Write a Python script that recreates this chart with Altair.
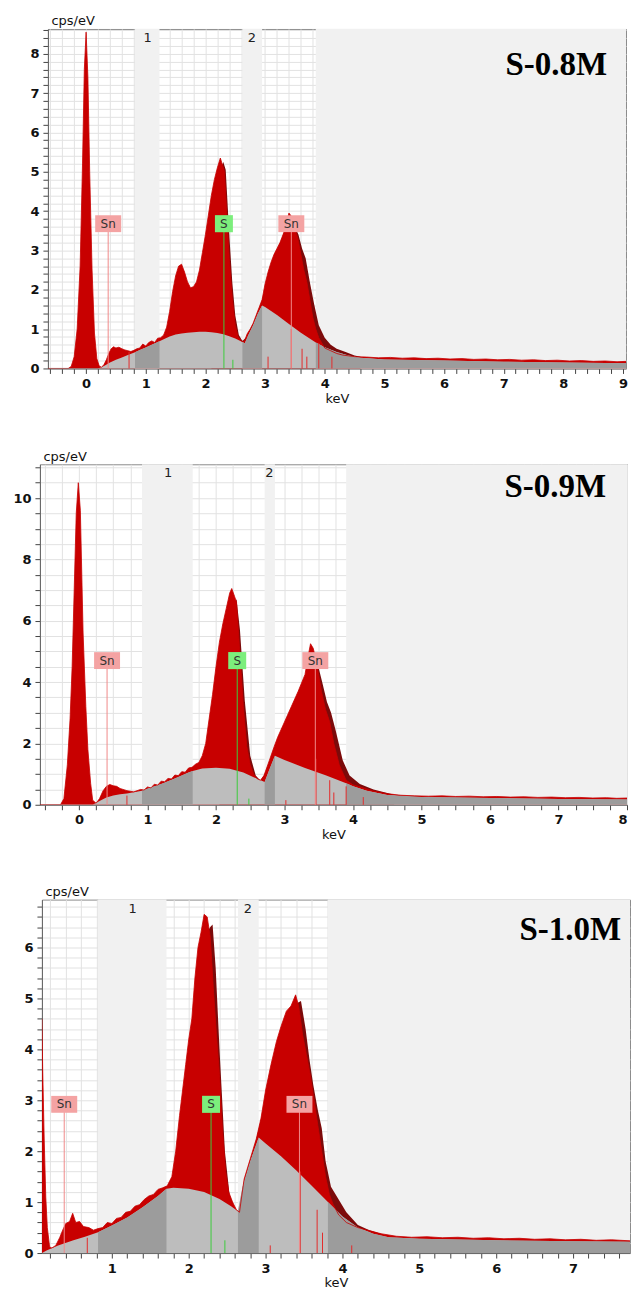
import altair as alt
import numpy as np
import pandas as pd

# ---------------- data ----------------
# Panel 1 : S-0.8M   (keV, cps/eV)
P1_SPECTRUM = [(-0.64, 0), (-0.3, 0), (-0.25, 0.05), (-0.2, 0.3), (-0.15, 1.0), (-0.1, 2.6), (-0.06, 5.2),
               (-0.03, 7.6), (0.0, 8.55), (0.03, 7.4), (0.06, 5.0), (0.1, 2.5), (0.14, 0.9), (0.18, 0.25),
               (0.22, 0.06), (0.26, 0.03), (0.3, 0.1), (0.34, 0.22), (0.38, 0.38), (0.42, 0.5), (0.46, 0.55),
               (0.5, 0.52), (0.55, 0.54), (0.6, 0.5), (0.65, 0.47), (0.7, 0.45), (0.75, 0.43), (0.8, 0.46),
               (0.85, 0.5), (0.9, 0.52), (0.95, 0.62), (1.0, 0.57), (1.05, 0.66), (1.1, 0.7), (1.15, 0.66),
               (1.2, 0.77), (1.25, 0.78), (1.3, 0.85), (1.35, 1.05), (1.4, 1.45), (1.45, 1.95), (1.5, 2.35),
               (1.55, 2.6), (1.6, 2.65), (1.65, 2.45), (1.7, 2.2), (1.75, 2.05), (1.8, 2.08), (1.85, 2.2),
               (1.9, 2.5), (1.95, 2.95), (2.0, 3.4), (2.05, 3.9), (2.1, 4.4), (2.15, 4.8), (2.2, 5.1),
               (2.25, 5.35), (2.28, 5.2), (2.32, 5.0), (2.36, 3.9), (2.4, 2.8), (2.45, 1.8), (2.5, 1.1),
               (2.55, 0.8), (2.6, 0.7), (2.65, 0.68), (2.7, 0.88), (2.75, 1.0), (2.8, 1.15), (2.85, 1.35),
               (2.9, 1.55), (2.95, 1.75), (3.0, 2.15), (3.05, 2.45), (3.1, 2.7), (3.15, 2.9), (3.2, 3.05),
               (3.25, 3.2), (3.3, 3.4), (3.35, 3.6), (3.4, 3.95), (3.45, 3.85), (3.5, 3.55), (3.55, 3.3),
               (3.6, 2.9), (3.65, 2.5), (3.7, 2.2), (3.75, 1.75), (3.8, 1.3), (3.85, 1.0), (3.9, 0.78),
               (4.0, 0.52), (4.1, 0.45), (4.2, 0.38), (4.3, 0.34), (4.4, 0.32), (4.5, 0.3), (4.7, 0.29),
               (4.9, 0.27), (5.1, 0.28), (5.3, 0.26), (5.5, 0.27), (5.7, 0.25), (5.9, 0.26), (6.1, 0.24),
               (6.3, 0.25), (6.5, 0.23), (6.7, 0.24), (6.9, 0.22), (7.1, 0.23), (7.3, 0.21), (7.5, 0.22),
               (7.7, 0.2), (7.9, 0.21), (8.1, 0.19), (8.3, 0.2), (8.5, 0.18), (8.7, 0.19), (8.9, 0.17),
               (9.05, 0.18)]
P1_FIT = [(2.1, 4.2), (2.2, 4.9), (2.3, 5.25), (2.34, 5.05), (2.4, 3.4), (2.45, 2.2), (2.5, 1.35),
          (2.56, 0.85), (2.62, 0.7), (2.8, 0.95), (3.0, 2.0), (3.2, 2.95), (3.42, 3.9), (3.5, 3.6),
          (3.56, 3.4), (3.62, 3.05), (3.68, 2.8), (3.75, 2.2), (3.82, 1.65), (3.9, 1.1), (4.0, 0.78),
          (4.1, 0.6), (4.2, 0.5), (4.35, 0.42), (4.5, 0.33), (4.6, 0.3)]
P1_BACKGROUND = [(0.2, 0.0), (0.3, 0.06), (0.4, 0.15), (0.5, 0.22), (0.6, 0.28), (0.7, 0.34), (0.82, 0.41),
                 (0.9, 0.47), (1.0, 0.53), (1.1, 0.6), (1.23, 0.69), (1.3, 0.74), (1.4, 0.81), (1.5, 0.86),
                 (1.6, 0.89), (1.7, 0.91), (1.8, 0.92), (1.9, 0.93), (2.0, 0.93), (2.1, 0.92), (2.2, 0.9),
                 (2.3, 0.87), (2.4, 0.82), (2.5, 0.76), (2.62, 0.67), (2.66, 0.64), (2.72, 0.85), (2.8, 1.1),
                 (2.88, 1.4), (2.95, 1.6), (3.0, 1.56), (3.2, 1.36), (3.4, 1.13), (3.6, 0.91), (3.85, 0.66),
                 (4.0, 0.54), (4.2, 0.42), (4.4, 0.33), (4.6, 0.27), (5.0, 0.23), (6.0, 0.2), (7.0, 0.17),
                 (8.0, 0.15), (9.05, 0.13)]
P1_BANDS = [(0.82, 1.23), (2.62, 2.95), (3.85, 9.05)]
P1_BAND_LABELS = [("1", 1.03), ("2", 2.78)]
P1_ELEMENTS = [("Sn", 0.37, 3.68), ("S", 2.31, 3.68), ("Sn", 3.44, 3.68)]
P1_RED_LINES = [(0.72, 0.42), (3.05, 0.3), (3.44, 1.0), (3.62, 0.5), (3.7, 0.3), (3.9, 0.65), (4.12, 0.3)]
P1_GREEN_LINES = [(2.46, 0.22)]

# Panel 2 : S-0.9M
P2_SPECTRUM = [(-0.57, 0), (-0.27, 0), (-0.22, 0.2), (-0.17, 1.3), (-0.13, 2.8), (-0.1, 4.5), (-0.07, 7.0),
               (-0.04, 9.5), (-0.01, 10.5), (0.02, 9.6), (0.06, 5.6), (0.1, 3.2), (0.13, 1.8), (0.17, 0.7),
               (0.2, 0.15), (0.25, 0.05), (0.3, 0.2), (0.35, 0.45), (0.4, 0.6), (0.45, 0.66), (0.5, 0.62),
               (0.55, 0.6), (0.6, 0.53), (0.7, 0.46), (0.8, 0.42), (0.9, 0.5), (0.95, 0.48), (1.0, 0.58),
               (1.05, 0.55), (1.1, 0.67), (1.15, 0.64), (1.2, 0.77), (1.25, 0.75), (1.3, 0.86), (1.35, 0.84),
               (1.4, 0.97), (1.45, 0.95), (1.5, 1.08), (1.55, 1.06), (1.6, 1.2), (1.65, 1.22), (1.7, 1.32),
               (1.75, 1.38), (1.8, 1.6), (1.85, 2.0), (1.9, 2.8), (1.95, 3.6), (2.0, 4.5), (2.05, 5.3),
               (2.1, 5.9), (2.15, 6.4), (2.2, 6.9), (2.23, 7.05), (2.27, 6.8), (2.3, 6.6), (2.35, 4.9),
               (2.4, 3.2), (2.45, 1.9), (2.5, 1.3), (2.55, 1.0), (2.6, 0.85), (2.65, 0.8), (2.7, 0.95),
               (2.78, 1.45), (2.85, 1.9), (2.9, 2.2), (3.0, 2.7), (3.1, 3.2), (3.2, 3.7), (3.3, 4.25),
               (3.35, 4.9), (3.38, 5.25), (3.42, 5.1), (3.47, 4.6), (3.54, 3.7), (3.6, 3.1), (3.66, 2.7),
               (3.72, 2.0), (3.8, 1.3), (3.9, 0.8), (4.0, 0.65), (4.15, 0.55), (4.3, 0.45), (4.5, 0.36),
               (4.7, 0.31), (4.9, 0.29), (5.1, 0.28), (5.3, 0.29), (5.5, 0.27), (5.7, 0.28), (5.9, 0.26),
               (6.1, 0.27), (6.3, 0.25), (6.5, 0.26), (6.7, 0.24), (6.9, 0.25), (7.1, 0.23), (7.3, 0.24),
               (7.5, 0.22), (7.7, 0.23), (7.85, 0.21), (8.0, 0.22)]
P2_FIT = [(2.05, 4.6), (2.2, 6.3), (2.3, 6.7), (2.35, 5.7), (2.42, 3.4), (2.5, 1.6), (2.58, 0.95),
          (2.65, 0.78), (2.8, 1.3), (3.0, 2.4), (3.3, 3.9), (3.45, 4.9), (3.55, 4.0), (3.62, 3.35),
          (3.68, 3.0), (3.75, 2.4), (3.85, 1.45), (3.95, 0.95), (4.1, 0.68), (4.3, 0.5), (4.5, 0.38),
          (4.6, 0.33)]
P2_BACKGROUND = [(0.2, 0.0), (0.3, 0.12), (0.4, 0.24), (0.5, 0.3), (0.6, 0.34), (0.7, 0.37), (0.8, 0.41),
                 (0.92, 0.46), (1.0, 0.52), (1.2, 0.68), (1.4, 0.86), (1.6, 1.05), (1.66, 1.1), (1.8, 1.18),
                 (2.0, 1.21), (2.2, 1.17), (2.4, 1.05), (2.55, 0.9), (2.71, 0.74), (2.78, 1.15), (2.86, 1.6),
                 (3.0, 1.46), (3.3, 1.2), (3.6, 0.96), (3.9, 0.7), (4.0, 0.6), (4.2, 0.46), (4.5, 0.32),
                 (5.0, 0.25), (6.0, 0.22), (7.0, 0.19), (8.0, 0.17)]
P2_BANDS = [(0.92, 1.66), (2.71, 2.86), (3.9, 8.0)]
P2_BAND_LABELS = [("1", 1.3), ("2", 2.78)]
P2_ELEMENTS = [("Sn", 0.41, 4.7), ("S", 2.31, 4.7), ("Sn", 3.45, 4.7)]
P2_RED_LINES = [(0.7, 0.3), (3.02, 0.15), (3.46, 1.5), (3.66, 0.8), (3.72, 0.4), (3.9, 0.6), (4.15, 0.25)]
P2_GREEN_LINES = [(2.48, 0.2)]

# Panel 3 : S-1.0M
P3_SPECTRUM = [(0.09, 4.6), (0.1, 3.6), (0.12, 2.2), (0.14, 1.1), (0.16, 0.5), (0.19, 0.12), (0.22, 0.1),
               (0.27, 0.15), (0.32, 0.3), (0.36, 0.45), (0.4, 0.58), (0.45, 0.62), (0.49, 0.78), (0.53, 0.6),
               (0.58, 0.62), (0.63, 0.52), (0.7, 0.5), (0.76, 0.45), (0.82, 0.48), (0.88, 0.5), (0.94, 0.6),
               (1.0, 0.58), (1.06, 0.68), (1.12, 0.7), (1.18, 0.8), (1.24, 0.82), (1.3, 0.92), (1.36, 0.95),
               (1.42, 1.05), (1.48, 1.12), (1.54, 1.15), (1.6, 1.25), (1.66, 1.28), (1.72, 1.32), (1.78, 1.5),
               (1.83, 2.0), (1.88, 2.7), (1.92, 3.2), (1.96, 3.7), (2.0, 4.2), (2.04, 4.6), (2.08, 5.4),
               (2.12, 6.0), (2.16, 6.3), (2.2, 6.65), (2.24, 6.6), (2.28, 6.2), (2.32, 5.2), (2.36, 4.3),
               (2.4, 3.5), (2.44, 2.4), (2.48, 1.6), (2.52, 1.2), (2.57, 1.0), (2.62, 0.85), (2.66, 0.8),
               (2.72, 1.45), (2.8, 1.85), (2.88, 2.25), (2.94, 2.65), (3.0, 3.2), (3.07, 3.7), (3.14, 4.15),
               (3.2, 4.45), (3.27, 4.75), (3.33, 4.85), (3.39, 5.07), (3.43, 4.85), (3.48, 4.3), (3.53, 3.9),
               (3.58, 3.5), (3.63, 3.0), (3.68, 2.5), (3.73, 2.0), (3.78, 1.5), (3.83, 1.15), (3.88, 0.95),
               (3.95, 0.75), (4.05, 0.6), (4.2, 0.5), (4.35, 0.44), (4.5, 0.38), (4.7, 0.33), (4.9, 0.31),
               (5.1, 0.32), (5.3, 0.3), (5.5, 0.31), (5.7, 0.29), (5.9, 0.3), (6.1, 0.28), (6.3, 0.29),
               (6.5, 0.27), (6.7, 0.28), (6.9, 0.26), (7.1, 0.27), (7.3, 0.25), (7.5, 0.26), (7.74, 0.24)]
P3_FIT = [(2.2, 6.2), (2.28, 6.4), (2.31, 6.45), (2.35, 5.6), (2.4, 4.0), (2.47, 2.0), (2.53, 1.15),
          (2.6, 0.85), (2.65, 0.8), (3.0, 3.0), (3.3, 4.6), (3.4, 4.9), (3.46, 4.95), (3.52, 4.4),
          (3.57, 3.8), (3.62, 3.3), (3.68, 2.8), (3.73, 2.45), (3.78, 1.8), (3.85, 1.3), (3.95, 1.05),
          (4.05, 0.8), (4.2, 0.55), (4.35, 0.45), (4.5, 0.38)]
P3_BACKGROUND = [(0.09, 0.0), (0.15, 0.05), (0.3, 0.15), (0.5, 0.25), (0.65, 0.32), (0.82, 0.41), (1.0, 0.54),
                 (1.2, 0.7), (1.4, 0.9), (1.6, 1.12), (1.71, 1.26), (1.8, 1.28), (2.0, 1.26), (2.2, 1.2),
                 (2.4, 1.06), (2.55, 0.92), (2.64, 0.82), (2.7, 1.3), (2.8, 1.8), (2.91, 2.27), (3.0, 2.15),
                 (3.2, 1.9), (3.4, 1.62), (3.6, 1.32), (3.81, 1.0), (4.0, 0.72), (4.2, 0.5), (4.4, 0.38),
                 (4.6, 0.31), (5.0, 0.28), (6.0, 0.25), (7.0, 0.23), (7.74, 0.22)]
P3_BANDS = [(0.82, 1.71), (2.64, 2.91), (3.81, 7.74)]
P3_BAND_LABELS = [("1", 1.27), ("2", 2.77)]
P3_ELEMENTS = [("Sn", 0.38, 2.92), ("S", 2.29, 2.92), ("Sn", 3.44, 2.92)]
P3_RED_LINES = [(0.68, 0.3), (3.06, 0.15), (3.45, 1.6), (3.67, 0.85), (3.74, 0.4), (4.12, 0.15)]
P3_GREEN_LINES = [(2.47, 0.25)]

TITLES = ["S-0.8M", "S-0.9M", "S-1.0M"]

# ---------------- styling ----------------
RED = "#c80000"
DARK_RED = "#7c0a0a"
BAND = "#f1f1f1"
GRAY_LIGHT = "#bdbdbd"
GRAY_DARK = "#9c9c9c"
SN_FILL = "#f4a3a3"
SN_LINE = "#f08a8a"
S_FILL = "#7cee7c"
S_LINE = "#3ccc3c"
AX_FONT = "DejaVu Sans"
SN_SHAPE = "M-1,-0.65H1V0.65H-1Z"
S_SHAPE = "M-1,-0.95H1V0.95H-1Z"
AXIS_ROOM = 30  # room kept left of every plot area for the y axis
LAYOUT_SLACK = 3  # extra offset the layout adds beyond AXIS_ROOM


def tick_values(lo, hi, step):
    start = np.ceil(lo / step - 1e-9) * step
    vals = np.arange(start, hi + 1e-9, step)
    return [float(round(v, 3)) + 0.0 for v in vals]


def label_expr(every):
    return (f"abs(datum.value / {every} - round(datum.value / {every})) < 0.001 "
            f"? format(round(datum.value), 'd') : ''")


def make_panel(spectrum, fit, background, bands, band_labels, elements, red_lines, green_lines,
               title, xdom, ydom, xstep, ystep, ylab_every, width, height, title_x, title_y,
               margin_top, margin_bottom):
    xs = alt.Scale(domain=xdom, nice=False, zero=False)
    ys = alt.Scale(domain=ydom, nice=False, zero=False)
    xaxis = alt.Axis(values=tick_values(xdom[0], xdom[1], xstep), labelExpr=label_expr(1),
                     title="keV", grid=True, gridColor="#e2e2e2", tickSize=5, tickColor="#444",
                     domainColor="#666", labelFont=AX_FONT, labelFontSize=13, labelFontWeight="bold",
                     labelColor="#111", labelPadding=4, labelOverlap=False, labelFlush=True,
                     titleFont=AX_FONT, titleFontSize=13, titleFontWeight="normal",
                     titleColor="#111", titlePadding=2)
    yaxis = alt.Axis(values=tick_values(ydom[0], ydom[1], ystep), labelExpr=label_expr(ylab_every),
                     title="cps/eV", titleAngle=0, titleAlign="left", titleBaseline="alphabetic",
                     titleX=3, titleY=-4, grid=True, gridColor="#e2e2e2", tickSize=5, tickColor="#444",
                     domainColor="#666", labelFont=AX_FONT, labelFontSize=13, labelFontWeight="bold",
                     labelColor="#111", labelPadding=4, labelOverlap=False, labelFlush=False,
                     titleFont=AX_FONT, titleFontSize=13, titleFontWeight="normal", titleColor="#111")

    def X(f):
        return alt.X(f, type="quantitative", scale=xs, axis=xaxis)

    def Y(f):
        return alt.Y(f, type="quantitative", scale=ys, axis=yaxis)

    spec_df = pd.DataFrame(spectrum, columns=["keV", "cps"])
    fit_df = pd.DataFrame(fit, columns=["keV", "cps"])
    bg_df = pd.DataFrame(background, columns=["keV", "cps"])
    band_df = pd.DataFrame(bands, columns=["start", "end"])
    blab_df = pd.DataFrame(band_labels, columns=["lab", "keV"])
    el_df = pd.DataFrame(elements, columns=["el", "keV", "cps"])
    rl_df = pd.DataFrame(red_lines, columns=["keV", "cps"])
    gl_df = pd.DataFrame(green_lines, columns=["keV", "cps"])
    one = pd.DataFrame({"t": [title]})

    layers = []
    # invisible layout anchors: they fix the margin around each panel's plot area
    for ay in (-margin_top, height + margin_bottom):
        layers.append(alt.Chart(one).mark_point(size=1, opacity=0, filled=True, strokeWidth=0)
                      .encode(x=alt.value(-AXIS_ROOM + 0.5), y=alt.value(ay)))
    layers.append(alt.Chart(band_df).mark_rect(color=BAND).encode(x=X("start"), x2="end"))
    layers.append(alt.Chart(fit_df).mark_area(color=DARK_RED, clip=True).encode(x=X("keV"), y=Y("cps")))
    layers.append(alt.Chart(spec_df).mark_area(color=RED, clip=True).encode(x=X("keV"), y=Y("cps")))
    layers.append(alt.Chart(bg_df).mark_area(color=GRAY_LIGHT, clip=True).encode(x=X("keV"), y=Y("cps")))
    for a, b in bands:
        layers.append(alt.Chart(bg_df).mark_area(color=GRAY_DARK, clip=True)
                      .encode(x=X("keV"), y=Y("cps"))
                      .transform_filter(f"datum.keV >= {a} && datum.keV <= {b}"))
    layers.append(alt.Chart(spec_df).mark_line(color=RED, strokeWidth=0.8, clip=True)
                  .encode(x=X("keV"), y=Y("cps")))
    layers.append(alt.Chart(rl_df).mark_rule(color="#e32b2b", strokeWidth=1)
                  .encode(x=X("keV"), y=Y("cps"), y2=alt.datum(0)))
    layers.append(alt.Chart(gl_df).mark_rule(color=S_LINE, strokeWidth=1)
                  .encode(x=X("keV"), y=Y("cps"), y2=alt.datum(0)))
    for name, line_c, fill_c, shape, size in [("Sn", SN_LINE, SN_FILL, SN_SHAPE, 676),
                                             ("S", S_LINE, S_FILL, S_SHAPE, 324)]:
        flt = f"datum.el == '{name}'"
        layers.append(alt.Chart(el_df).mark_rule(color=line_c, strokeWidth=1)
                      .encode(x=X("keV"), y=Y("cps"), y2=alt.datum(0)).transform_filter(flt))
        layers.append(alt.Chart(el_df).mark_point(shape=shape, filled=True, size=size, color=fill_c,
                                                  opacity=1, strokeWidth=0)
                      .encode(x=X("keV"), y=Y("cps")).transform_filter(flt))
    layers.append(alt.Chart(el_df).mark_text(font=AX_FONT, fontSize=12, color="#333", baseline="middle")
                  .encode(x=X("keV"), y=Y("cps"), text="el:N"))
    layers.append(alt.Chart(blab_df).mark_text(font=AX_FONT, fontSize=13, color="#222", baseline="middle")
                  .encode(x=X("keV"), y=alt.value(9), text="lab:N"))
    layers.append(alt.Chart(one)
                  .mark_text(font="Liberation Serif", fontSize=33, fontWeight="bold", align="right",
                             baseline="alphabetic", color="#000")
                  .encode(x=alt.value(title_x), y=alt.value(title_y), text="t:N"))
    return alt.layer(*layers).properties(width=width, height=height)


def spacer(w):
    return (alt.Chart(pd.DataFrame({"v": [0]})).mark_point(opacity=0, size=1)
            .encode(x=alt.value(0), y=alt.value(5))
            .properties(width=w, height=10, view=alt.ViewBackground(stroke="transparent")))


p1 = make_panel(P1_SPECTRUM, P1_FIT, P1_BACKGROUND, P1_BANDS, P1_BAND_LABELS, P1_ELEMENTS,
                P1_RED_LINES, P1_GREEN_LINES, TITLES[0], [-0.64, 9.05], [0, 8.63], 0.2, 0.2, 1,
                579, 340, 560, 46, 27, 50)
p2 = make_panel(P2_SPECTRUM, P2_FIT, P2_BACKGROUND, P2_BANDS, P2_BAND_LABELS, P2_ELEMENTS,
                P2_RED_LINES, P2_GREEN_LINES, TITLES[1], [-0.57, 8.0], [0, 11.1], 0.25, 0.5, 2,
                588, 341, 567, 33, 44, 50)
p3 = make_panel(P3_SPECTRUM, P3_FIT, P3_BACKGROUND, P3_BANDS, P3_BAND_LABELS, P3_ELEMENTS,
                P3_RED_LINES, P3_GREEN_LINES, TITLES[2], [0.09, 7.74], [0, 6.94], 0.2, 0.2, 1,
                589, 354, 580, 40, 43, 44)

# plot-area left edges in the reference: 48, 40 and 42 px
shift = AXIS_ROOM + LAYOUT_SLACK
chart = alt.vconcat(
    alt.hconcat(spacer(48 - shift), p1, spacing=0),
    alt.hconcat(spacer(40 - shift), p2, spacing=0),
    alt.hconcat(spacer(42 - shift), p3, spacing=0),
    spacing=0,
).configure_view(stroke="#8c8c8c", strokeWidth=1).properties(
    padding={"top": 0, "left": 0, "right": 0, "bottom": 0}, background="white")

chart.save("out.html", embed_options={"renderer": "svg", "actions": False})
